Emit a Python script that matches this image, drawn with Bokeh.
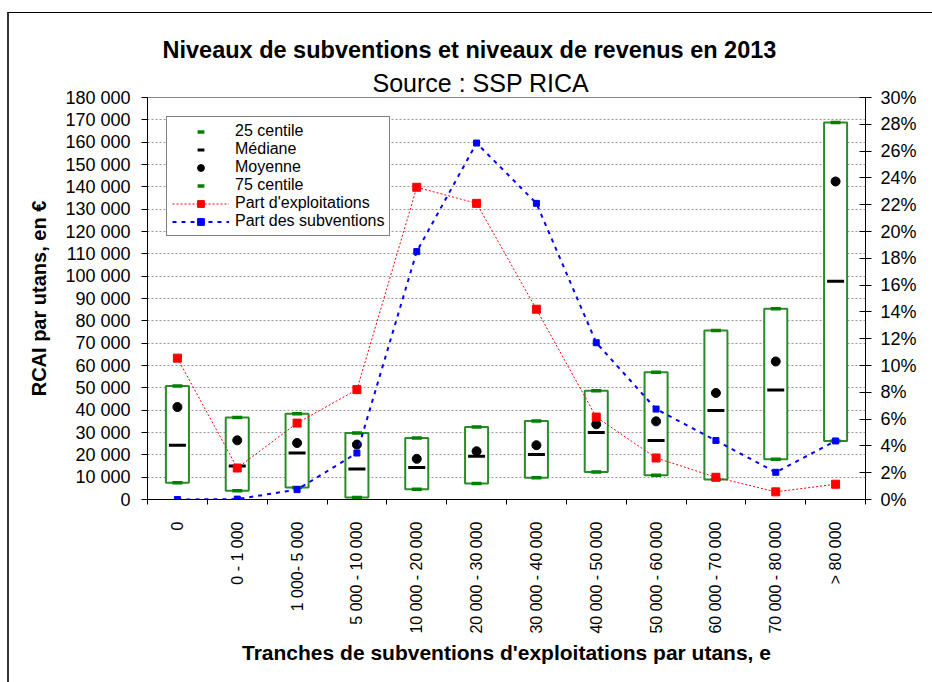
import math
from bokeh.plotting import figure
from bokeh.models import (Range1d, LinearAxis, FixedTicker, Legend, LegendItem, Title)
from bokeh.embed import file_html
from bokeh.resources import INLINE

# ---------------- data ----------------
categories = ["0", "0 - 1 000", "1 000- 5 000", "5 000 - 10 000", "10 000 - 20 000",
              "20 000 - 30 000", "30 000 - 40 000", "40 000 - 50 000", "50 000 - 60 000",
              "60 000 - 70 000", "70 000 - 80 000", "> 80 000"]
q25 = [7500, 3900, 5400, 900, 4600, 7200, 9700, 12300, 10900, 8900, 18000, 26200]
median = [24300, 15000, 20800, 13700, 14300, 19400, 20100, 30000, 26400, 39800, 49000, 97700]
mean = [41400, 26500, 25300, 24600, 18200, 21600, 24300, 33700, 35000, 47700, 61800, 142400]
q75 = [50800, 36700, 38400, 29800, 27500, 32500, 35100, 48700, 57000, 75700, 85400, 168800]
part_exploitations = [10.55, 2.35, 5.7, 8.2, 23.3, 22.1, 14.2, 6.15, 3.1, 1.66, 0.57, 1.14]   # %
part_subventions = [0.0, 0.03, 0.74, 3.47, 18.5, 26.6, 22.1, 11.7, 6.75, 4.4, 2.03, 4.37]    # %
y_ticks = list(range(0, 180001, 10000))
pct_ticks = list(range(0, 31, 2))

FONT = "Liberation Sans"
x = [i + 0.5 for i in range(len(categories))]
bounds = list(range(len(categories) + 1))

p = figure(output_backend="svg", toolbar_location=None, title_location=None,
           x_range=Range1d(0, len(categories)), y_range=Range1d(0, 180000),
           frame_width=718, frame_height=402,
           min_border_left=138, min_border_right=67, min_border_top=84, min_border_bottom=183)
# outer frame of the whole chart (left and top edges are inside the window)
p.styles = {"margin-left": "7px", "margin-top": "12px",
            "border-left": "2px solid #333333", "border-top": "1px solid #000000"}
p.extra_y_ranges = {"pct": Range1d(0, 30)}
p.outline_line_color = "#888888"
p.background_fill_color = "white"
p.border_fill_color = "white"

# titles
p.add_layout(Title(text="Source : SSP RICA", align="left", text_font=FONT, text_font_size="25px",
                   text_font_style="normal", text_color="black", offset=225, standoff=2), "above")
p.add_layout(Title(text="Niveaux de subventions et niveaux de revenus en 2013", align="left",
                   text_font=FONT, text_font_size="23.5px", text_font_style="bold",
                   text_color="black", offset=15, standoff=6), "above")

# grid
p.xgrid.grid_line_color = None
p.ygrid.ticker = FixedTicker(ticks=y_ticks)
p.ygrid.grid_line_color = "#999999"
p.ygrid.grid_line_dash = "2 2"

# x axis
xa = p.xaxis[0]
xa.ticker = FixedTicker(ticks=x, minor_ticks=bounds)
xa.major_label_overrides = {xi: c for xi, c in zip(x, categories)}
xa.major_label_orientation = math.pi / 2
xa.major_tick_out = 0
xa.major_tick_in = 0
xa.minor_tick_out = 5
xa.minor_tick_in = 0
xa.minor_tick_line_color = "black"
xa.axis_line_color = "black"
xa.major_label_text_font = FONT
xa.major_label_text_font_size = "16px"
xa.major_label_text_color = "black"
xa.major_label_standoff = 17
xa.axis_label = "Tranches de subventions d'exploitations par utans, e"
xa.axis_label_text_font = FONT
xa.axis_label_text_font_size = "21px"
xa.axis_label_text_font_style = "bold"
xa.axis_label_text_color = "black"
xa.axis_label_standoff = 4

# left axis
ya = p.yaxis[0]
ya.ticker = FixedTicker(ticks=y_ticks)
ya.major_label_overrides = {v: f"{v:,}".replace(",", " ") for v in y_ticks}
ya.major_tick_out = 6
ya.major_tick_in = 0
ya.minor_tick_line_color = None
ya.axis_line_color = "black"
ya.major_tick_line_color = "black"
ya.major_label_text_font = FONT
ya.major_label_text_font_size = "18px"
ya.major_label_text_color = "black"
ya.major_label_standoff = 11
ya.axis_label = "RCAI par utans, en €"
ya.axis_label_text_font = FONT
ya.axis_label_text_font_size = "20px"
ya.axis_label_text_font_style = "bold"
ya.axis_label_text_color = "black"
ya.axis_label_standoff = 12

# right axis
ra = LinearAxis(y_range_name="pct", ticker=FixedTicker(ticks=pct_ticks),
                major_label_overrides={v: f"{v}%" for v in pct_ticks})
ra.major_tick_out = 6
ra.major_tick_in = 6
ra.minor_tick_line_color = None
ra.axis_line_color = "black"
ra.major_tick_line_color = "black"
ra.major_label_text_font = FONT
ra.major_label_text_font_size = "18px"
ra.major_label_text_color = "black"
ra.major_label_standoff = 9
p.add_layout(ra, "right")

# boxes
p.vbar(x=x, width=0.385, bottom=q25, top=q75, fill_color="white",
       line_color="#2b8a2b", line_width=2)
r_q25 = p.scatter(x=x, y=q25, marker="dash", size=10, line_color="#008000", line_width=3.5)
r_q75 = p.scatter(x=x, y=q75, marker="dash", size=10, line_color="#008000", line_width=3.5)
r_med = p.scatter(x=x, y=median, marker="dash", size=17, line_color="black", line_width=3)
r_mean = p.scatter(x=x, y=mean, marker="circle", size=9, fill_color="black", line_color="black")

# share lines
r_bl = p.line(x=x, y=part_subventions, y_range_name="pct", line_color="#0000FF",
              line_width=2, line_dash="4 5")
r_bp = p.scatter(x=x, y=part_subventions, y_range_name="pct", marker="square", size=6,
                 fill_color="#0000FF", line_color="#0000FF")
r_rl = p.line(x=x, y=part_exploitations, y_range_name="pct", line_color="#FF0000",
              line_width=1, line_dash="2 2")
r_rp = p.scatter(x=x, y=part_exploitations, y_range_name="pct", marker="square", size=8,
                 fill_color="#FF0000", line_color="#FF0000")

legend = Legend(items=[
    LegendItem(label="25 centile", renderers=[r_q25]),
    LegendItem(label="Médiane", renderers=[r_med]),
    LegendItem(label="Moyenne", renderers=[r_mean]),
    LegendItem(label="75 centile", renderers=[r_q75]),
    LegendItem(label="Part d'exploitations", renderers=[r_rl, r_rp]),
    LegendItem(label="Part des subventions", renderers=[r_bl, r_bp]),
], location="top_left")
legend.margin = 19
legend.padding = 5
legend.spacing = 0
legend.glyph_width = 57
legend.glyph_height = 17
legend.label_height = 17
legend.label_standoff = 6
legend.label_text_font = FONT
legend.label_text_font_size = "16px"
legend.label_text_color = "black"
legend.border_line_color = "black"
legend.border_line_width = 1.5
legend.background_fill_color = "white"
legend.background_fill_alpha = 1
p.add_layout(legend)

open("out.html", "w").write(file_html(p, INLINE))
